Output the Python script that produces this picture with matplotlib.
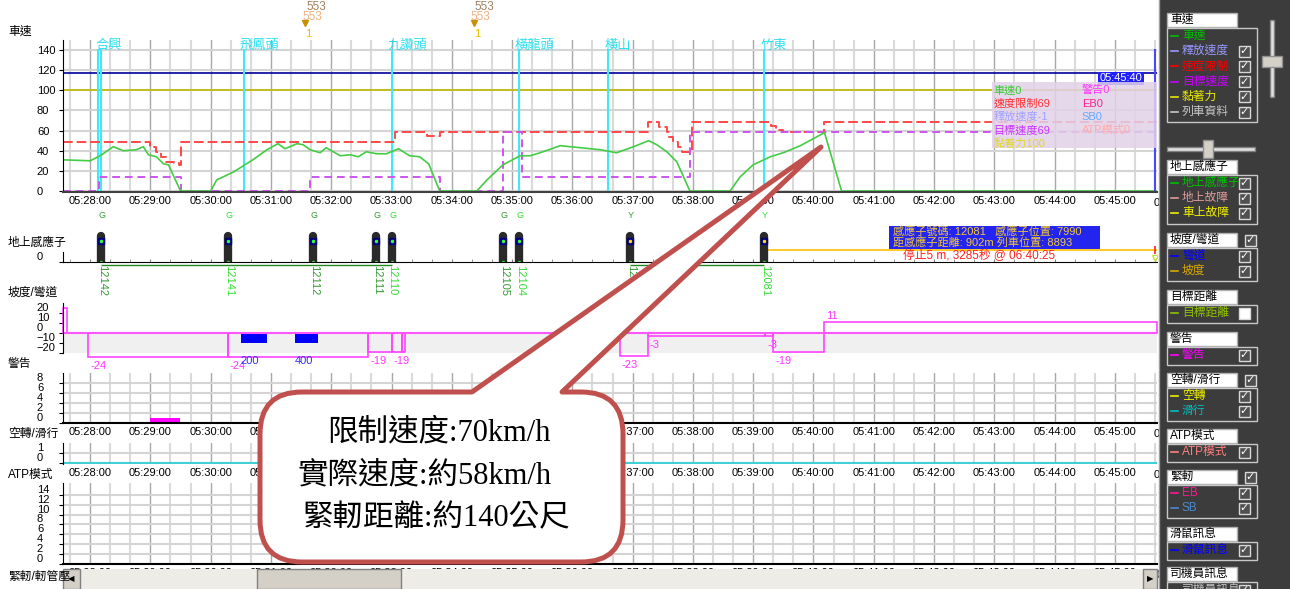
import matplotlib
matplotlib.use("Agg")
import matplotlib.pyplot as plt
import numpy as np
from matplotlib.patches import Rectangle, PathPatch
from matplotlib.path import Path
from matplotlib.ticker import MultipleLocator, FuncFormatter, FixedLocator

W, H = 1290, 589
plt.rcParams['font.family'] = ['Liberation Sans', 'Noto Sans CJK TC', 'DejaVu Sans']
plt.rcParams['hatch.color'] = '#c8c6c0'
SERIF = ['Liberation Serif', 'Noto Sans CJK TC']


def sec(s):
    h, m, x = s.split(':')
    return int(h) * 3600 + int(m) * 60 + int(x)


def secs(lst):
    return np.array([sec(s) for s in lst])


# ---- data ----
T_START, T_END = '05:27:33', '05:45:42'
cursor_time = '05:45:40'

speed_time = ['05:27:32', '05:28:00', '05:28:10', '05:28:23', '05:28:33', '05:28:46', '05:28:53',
              '05:28:58', '05:29:06', '05:29:13', '05:29:18', '05:29:30', '05:30:00', '05:30:06',
              '05:30:23', '05:30:42', '05:30:56', '05:31:07', '05:31:14', '05:31:26', '05:31:32',
              '05:31:39', '05:31:49', '05:31:55', '05:32:09', '05:32:19', '05:32:27', '05:32:35',
              '05:32:45', '05:32:55', '05:33:07', '05:33:18', '05:33:28', '05:33:37', '05:33:48',
              '05:34:25', '05:34:35', '05:34:51', '05:35:08', '05:35:18', '05:35:28', '05:35:48',
              '05:36:08', '05:36:28', '05:36:44', '05:37:01', '05:37:16', '05:37:24', '05:37:34',
              '05:37:44', '05:37:57', '05:38:37', '05:38:47', '05:39:00', '05:39:17', '05:39:30',
              '05:39:47', '05:40:11', '05:40:28', '05:45:42']
speed_val = [31, 30, 35, 44, 40, 41, 44, 36, 34, 27, 26, 0, 0, 11, 19, 31, 41, 47, 42, 47, 46,
             41, 38, 43, 35, 36, 34, 39, 37, 37, 42, 35, 34, 27, 0, 0, 11, 26, 35, 35, 38, 45,
             43, 41, 38, 44, 50, 46, 39, 29, 0, 0, 14, 26, 34, 38, 45, 58, 0, 0]

limit_time = ['05:27:33', '05:29:00', '05:29:06', '05:29:11', '05:29:16', '05:29:23', '05:29:28',
              '05:29:30', '05:33:03', '05:33:35', '05:33:48', '05:37:15', '05:37:26', '05:37:34',
              '05:37:36', '05:37:40', '05:37:45', '05:37:49', '05:37:59', '05:39:18', '05:39:23',
              '05:39:30', '05:40:11', '05:45:42']
limit_val = [49, 44, 39, 34, 29, 28, 26, 49, 59, 55, 59, 69, 64, 59, 54, 49, 44, 39, 69, 65, 61,
             59, 69, 69]

target_time = ['05:27:33', '05:28:09', '05:29:30', '05:31:39', '05:33:48', '05:34:51', '05:35:10',
               '05:37:57', '05:45:42']
target_val = [0, 14, 0, 14, 0, 59, 14, 59, 59]

station_line_time = ['05:28:08', '05:28:11', '05:30:33', '05:33:00', '05:35:07', '05:36:36', '05:39:11']
station_name = ['合興', '飛鳳頭', '九讚頭', '橫龍頭', '橫山', '竹東']
station_label_time = ['05:28:05', '05:30:29', '05:32:56', '05:35:03', '05:36:32', '05:39:07']

event_time = ['05:31:37', '05:34:25']
event_code = ['553', '553']

sensor_time = ['05:28:11', '05:30:17', '05:31:42', '05:32:45', '05:33:00', '05:34:51', '05:35:07',
               '05:36:57', '05:39:11']
sensor_id = ['12142', '12141', '12112', '12111', '12110', '12105', '12104', '12091', '12081']
sensor_signal = ['G', 'G', 'G', 'G', 'G', 'G', 'G', 'Y', 'Y']
sensor_lit = [False, True, False, False, True, False, True, False, True]

grade_start = ['05:27:33', '05:27:58', '05:30:17', '05:32:37', '05:33:00', '05:33:10', '05:36:47',
               '05:37:15', '05:39:12', '05:39:20', '05:40:11']
grade_end = ['05:27:37', '05:30:17', '05:32:37', '05:33:00', '05:33:10', '05:33:13', '05:37:15',
             '05:39:12', '05:39:20', '05:40:11', '05:45:42']
grade_val = [25, -24, -24, -19, -19, -19, -23, -3, -3, -19, 11]

curve_start = ['05:30:30', '05:31:24']
curve_end = ['05:30:56', '05:31:47']
curve_depth = [-10, -10]
curve_radius = ['200', '400']

warn_start, warn_end, warn_val = '05:29:00', '05:29:29', 1

fig = plt.figure(figsize=(W / 100, H / 100), dpi=100)
fig.patch.set_facecolor('white')
T0, T1 = sec(T_START), sec(T_END)
YPAD = 15.8


def px_ax(x0, y0, x1, y1):
    return fig.add_axes([x0 / W, 1 - y1 / H, (x1 - x0) / W, (y1 - y0) / H])


def hms(v, p=None):
    v = int(round(v))
    return f"{v // 3600:02d}:{v % 3600 // 60:02d}:{v % 60:02d}"


def time_axis(ax, grid=True, labels=True):
    ax.set_xlim(T0, T1)
    ax.xaxis.set_major_locator(MultipleLocator(60))
    ax.xaxis.set_minor_locator(MultipleLocator(20))
    ax.xaxis.set_major_formatter(FuncFormatter(hms))
    ax.tick_params(axis='x', which='both', length=0, labelsize=8, pad=3, labelbottom=labels)
    if grid:
        ax.grid(which='major', axis='x', color='#a8a8a8', lw=1)
        ax.grid(which='minor', axis='x', color='#dadada', lw=1.5)
    ax.set_axisbelow(True)
    for s in ('top', 'right'):
        ax.spines[s].set_visible(False)
    ax.patch.set_alpha(0)
    if labels:
        ax.annotate('05:46:00', xy=(sec('05:46:00'), 0), xycoords=('data', 'axes fraction'),
                    xytext=(0, -8), textcoords='offset points', ha='center', va='center',
                    fontsize=8, annotation_clip=False)


def y_axis(ax, ticks, va='bottom'):
    ax.yaxis.set_major_locator(FixedLocator(ticks))
    ax.tick_params(axis='y', length=3, labelsize=8, pad=YPAD)
    for lbl in ax.get_yticklabels():
        lbl.set_horizontalalignment('left')
        lbl.set_verticalalignment(va)


# ---- speed panel ----
ax = px_ax(63, 40, 1157, 191.5)
time_axis(ax)
ax.set_ylim(-0.5, 150)
y_axis(ax, range(0, 141, 20), va='center_baseline')
ax.grid(axis='y', color='#d4d4d4', lw=1.5)
ax.spines['bottom'].set_color('#404040')
ax.spines['bottom'].set_linewidth(1.5)
ax.axhline(117, color='#000099', lw=1.2)
ax.axhline(100, color='#c0b800', lw=1.2)
ax.vlines(secs(station_line_time), 0, 141, color='#40e8f8', lw=1.5)
for name, t in zip(station_name, secs(station_label_time)):
    ax.text(t, 144.5, name, color='#30e0f0', fontsize=9.5, ha='left', va='center', clip_on=False)
ax.step(secs(limit_time), limit_val, where='post', color='#ff4848', lw=1.4, dashes=(5, 2))
ax.step(secs(target_time), target_val, where='post', color='#cc55ee', lw=1.4, dashes=(4, 2.5))
ax.plot(secs(speed_time), speed_val, color='#44cc44', lw=1.2)
for t, code in zip(secs(event_time), event_code):
    ax.text(t - 2, 182.5, code, color='#a08060', fontsize=8.5, ha='left', va='center', clip_on=False)
    ax.text(t - 6, 173, code, color='#f0b080', fontsize=8.5, ha='left', va='center', clip_on=False)
    ax.plot([t - 3], [166.8], marker='v', color='#c89000', ms=4, clip_on=False)
    ax.text(t, 155.9, '1', color='#f0c000', fontsize=8, ha='center', va='center', clip_on=False)
tc = sec(cursor_time)
ax.vlines(tc, 0, 141, color='#4848ff', lw=1.5)
ax.text(tc - 13, 112, cursor_time, color='white', fontsize=8, ha='right', va='center',
        bbox=dict(fc='#2020ff', ec='none', pad=1.2))
lx = sec('05:42:58')
ax.add_patch(Rectangle((lx, 42.7), T1 - lx, 65.3, fc='#e2d2e8', alpha=0.85, ec='none', zorder=5))
legend_a = [('車速0', '#33cc33'), ('速度限制69', '#ff3030'), ('釋放速度-1', '#a0a0ff'),
            ('目標速度69', '#cc33ff'), ('黏着力100', '#e0d820')]
legend_b = [('警告0', '#ff33ff'), ('EB0', '#ff2090'), ('SB0', '#66aaff'), ('ATP模式0', '#ffaaaa')]
for i, (txt, c) in enumerate(legend_a):
    ax.text(lx + 1, 100 - 13.2 * i, txt, color=c, fontsize=8, va='center', zorder=6)
for i, (txt, c) in enumerate(legend_b):
    ax.text(lx + 89, 100 - 13.2 * i, txt, color=c, fontsize=8, va='center', zorder=6)

# ---- ground transponder panel ----
ax2 = px_ax(63, 205, 1157, 262)
time_axis(ax2, grid=False, labels=False)
ax2.set_ylim(0, 57)
ax2.xaxis.set_minor_locator(MultipleLocator(20))
ax2.tick_params(axis='x', which='both', direction='in', length=2.5, color='#808080')
ax2.spines['left'].set_bounds(0, 10)
y_axis(ax2, [0])
st = secs(sensor_time)
ax2.hlines(-3, st[0], st[4], color='#228822', lw=1, clip_on=False)
ax2.hlines(-3, st[7], st[8], color='#228822', lw=1, clip_on=False)
ax2.hlines(12, st[8], T1, color='#ffc000', lw=1.2)
ax2.vlines(st, 0, 26, color='#2a2a2a', lw=6, capstyle='round')
for t, sid, sig, lit in zip(st, sensor_id, sensor_signal, sensor_lit):
    c = '#33dd33' if lit else '#339933'
    head = '#ffdd00' if sig == 'Y' else '#33ff33'
    ax2.plot([t], [21], marker='s', color='#000080', ms=4)
    ax2.plot([t], [21], marker='.', color=head, ms=3)
    ax2.plot([t], [0], marker='.', color='#33dd33', ms=3)
    ax2.text(t + 1, -3, sid, color=c, fontsize=8, rotation=270, ha='center', va='top', clip_on=False)
    ax2.text(t + 1, 47, sig, color=c, fontsize=6.5, ha='center', va='center', clip_on=False)
ax2.vlines(tc, 8, 16, color='#ff2020', lw=1.2)
ax2.plot([tc], [4], marker='v', color='#c8e040', ms=5, mfc='none')

# ---- grade / curve panel ----
ax3 = px_ax(63, 303, 1157, 353)
time_axis(ax3, grid=False, labels=False)
ax3.set_ylim(-20, 30)
ax3.spines['bottom'].set_visible(False)
y_axis(ax3, [-20, -10, 0, 10, 20])
ax3.axhspan(-20, 0, color='#f0f0f0', lw=0)
ax3.axhline(0, color='#ff55ff', lw=1.5)
gs, ge = secs(grade_start), secs(grade_end)
ax3.bar(gs, grade_val, width=ge - gs, align='edge', fill=False, edgecolor='#ff44ff', lw=1.2,
        clip_on=False)
for s0, s1, v in zip(gs, ge, grade_val):
    if s1 - s0 < 5:
        continue
    ax3.text(s0 + 2, v + 6 if v > 0 else v - 9, str(v), color='#ff33ff', fontsize=8,
             ha='left', va='center', clip_on=False)
cs, ce = secs(curve_start), secs(curve_end)
ax3.bar(cs, curve_depth, width=ce - cs, align='edge', color='#0000ff')
for s0, r in zip(cs, curve_radius):
    ax3.text(s0, -28, r, color='#3333ee', fontsize=8, ha='left', va='center', clip_on=False)

# ---- warning panel ----
ax4 = px_ax(63, 373, 1157, 423)
time_axis(ax4)
ax4.set_ylim(0, 10)
y_axis(ax4, [0, 2, 4, 6, 8])
ax4.grid(axis='y', color='#d4d4d4', lw=1.5)
ax4.spines['bottom'].set_linewidth(1.5)
ax4.bar([sec(warn_start)], [warn_val], width=sec(warn_end) - sec(warn_start), align='edge',
        color='#ff00ff')

# ---- slip / slide panel ----
ax5 = px_ax(63, 443, 1157, 464)
time_axis(ax5)
ax5.set_ylim(-0.1, 2.0)
y_axis(ax5, [0, 1])
ax5.grid(axis='y', color='#d4d4d4', lw=1.5)
ax5.spines['bottom'].set_visible(False)
ax5.axhline(0, color='#40d0d8', lw=1.5)

# ---- ATP mode panel ----
ax6 = px_ax(63, 483, 1157, 564)
time_axis(ax6)
ax6.set_ylim(0, 16.4)
y_axis(ax6, range(0, 15, 2))
ax6.grid(axis='y', color='#d4d4d4', lw=1.5)
ax6.spines['bottom'].set_linewidth(1.5)

# ---- overlay in pixel space: labels, sidebar, scrollbar, callout ----
ov = fig.add_axes([0, 0, 1, 1])
ov.set_xlim(0, W)
ov.set_ylim(H, 0)
ov.axis('off')
ov.set_zorder(10)
ov.patch.set_alpha(0)

for y, txt in [(32, '車速'), (243, '地上感應子'), (293, '坡度/彎道'), (364, '警告'),
               (434, '空轉/滑行'), (475, 'ATP模式'), (577, '緊軔/軔管壓')]:
    ov.text(8, y, txt, fontsize=8.5, va='center', ha='left', color='black')

ov.add_patch(Rectangle((889, 226), 211, 23, fc='#2424f0', ec='none'))
ov.text(893, 232, '感應子號碼: 12081   感應子位置: 7990', color='#f0c830', fontsize=8, va='center')
ov.text(893, 243, '距感應子距離: 902m 列車位置: 8893', color='#f0c830', fontsize=8, va='center')
ov.text(903, 255, '停止5 m, 3285秒 @ 06:40:25', color='#ff2020', fontsize=8.5, va='center')

# scrollbar
ov.add_patch(Rectangle((63, 569), 1094, 20, fc='#eeece6', ec='none', hatch='....', lw=0))
ov.add_patch(Rectangle((63, 569), 17, 20, fc='#d4d0c8', ec='#808080', lw=1))
ov.text(71.5, 579, '◀', fontsize=6, ha='center', va='center', family='DejaVu Sans')
ov.add_patch(Rectangle((1143, 569), 14, 20, fc='#d4d0c8', ec='#808080', lw=1))
ov.text(1150, 579, '▶', fontsize=6, ha='center', va='center', family='DejaVu Sans')
ov.add_patch(Rectangle((257, 569), 144, 20, fc='#d4d0c8', ec='#808080', lw=1))

# sidebar
ov.add_patch(Rectangle((1159, 0), W - 1159, H, fc='#3c3c3c', ec='none'))
ov.plot([1158.5, 1158.5], [0, H], color='#a0a0a0', lw=1)


def checkbox(x, yc, on):
    ov.add_patch(Rectangle((x, yc - 5.5), 11, 11, fc='#505050' if on else 'white', ec='#d8d8d8', lw=1))
    if on:
        ov.text(x + 5.5, yc, '✓', color='white', fontsize=8, ha='center', va='center',
                family='DejaVu Sans', fontweight='bold')


groups = [
    ('車速', None, 13, [('車速', '#00c000', None), ('釋放速度', '#9999ff', True),
                       ('速度限制', '#ff0000', True), ('目標速度', '#cc00ff', True),
                       ('黏著力', '#e8e800', True), ('列車資料', '#c8c8c8', True)]),
    ('地上感應子', None, 160, [('地上感應子', '#00c000', True), ('地上故障', '#e09a9a', True),
                          ('車上故障', '#f0f000', True)]),
    ('坡度/彎道', True, 233, [('彎道', '#0000ff', True), ('坡度', '#d8a800', True)]),
    ('目標距離', None, 290, [('目標距離', '#90c000', False)]),
    ('警告', None, 332, [('警告', '#ff00ff', True)]),
    ('空轉/滑行', True, 373, [('空轉', '#f0f000', True), ('滑行', '#00c0c0', True)]),
    ('ATP模式', None, 429, [('ATP模式', '#ff8080', True)]),
    ('緊軔', True, 470, [('EB', '#ff1493', True), ('SB', '#4a8ad0', True)]),
    ('滑鼠訊息', None, 527, [('滑鼠訊息', '#0000ff', True)]),
    ('司機員訊息', None, 567, [('司機員訊息', '#c0c0c0', True)]),
]
for title, tchk, top, items in groups:
    ov.add_patch(Rectangle((1167, top), 70, 14, fc='white', ec='#b0b0b0', lw=1))
    ov.text(1170, top + 7, title, fontsize=8.5, va='center', color='black')
    if tchk is not None:
        checkbox(1245, top + 7, tchk)
    ov.add_patch(Rectangle((1167, top + 15), 90, 15.2 * len(items) + 3, fill=False, ec='#c8c8c8', lw=1))
    for i, (name, c, chk) in enumerate(items):
        yc = top + 23 + 15.2 * i
        ov.plot([1171, 1178], [yc, yc], color=c, lw=1.2)
        ov.text(1182, yc, name, color=c, fontsize=8.5, va='center')
        if chk is not None:
            checkbox(1239, yc, chk)

ov.add_patch(Rectangle((1270, 20), 4, 77, fc='#e0e0e0', ec='#808080', lw=1))
ov.add_patch(Rectangle((1262, 56), 20, 11, fc='#d4d0c8', ec='#909090', lw=1))
ov.add_patch(Rectangle((1167, 147), 88, 4, fc='#e0e0e0', ec='#808080', lw=1))
ov.add_patch(Rectangle((1203, 140), 10, 18, fc='#d4d0c8', ec='#909090', lw=1))

# speech-bubble callout
x0, x1, y0, y1, r = 260, 623, 392, 562, 42
verts = [(x0 + r, y0), (472, y0), (821, 147), (562, y0), (x1 - r, y0), (x1, y0), (x1, y0 + r),
         (x1, y1 - r), (x1, y1), (x1 - r, y1), (x0 + r, y1), (x0, y1), (x0, y1 - r),
         (x0, y0 + r), (x0, y0), (x0 + r, y0), (x0 + r, y0)]
codes = [Path.MOVETO, Path.LINETO, Path.LINETO, Path.LINETO, Path.LINETO, Path.CURVE3, Path.CURVE3,
         Path.LINETO, Path.CURVE3, Path.CURVE3, Path.LINETO, Path.CURVE3, Path.CURVE3,
         Path.LINETO, Path.CURVE3, Path.CURVE3, Path.CLOSEPOLY]
ov.add_patch(PathPatch(Path(verts, codes), fc='white', ec='#c0504d', lw=3.6, joinstyle='round'))
ov.text(327, 433, '限制速度:70km/h', fontsize=22, family=SERIF, va='center', ha='left')
ov.text(298, 476, '實際速度:約58km/h', fontsize=22, family=SERIF, va='center', ha='left')
ov.text(303, 519, '緊軔距離:約140公尺', fontsize=22, family=SERIF, va='center', ha='left')

fig.savefig('out.png', dpi=100)
